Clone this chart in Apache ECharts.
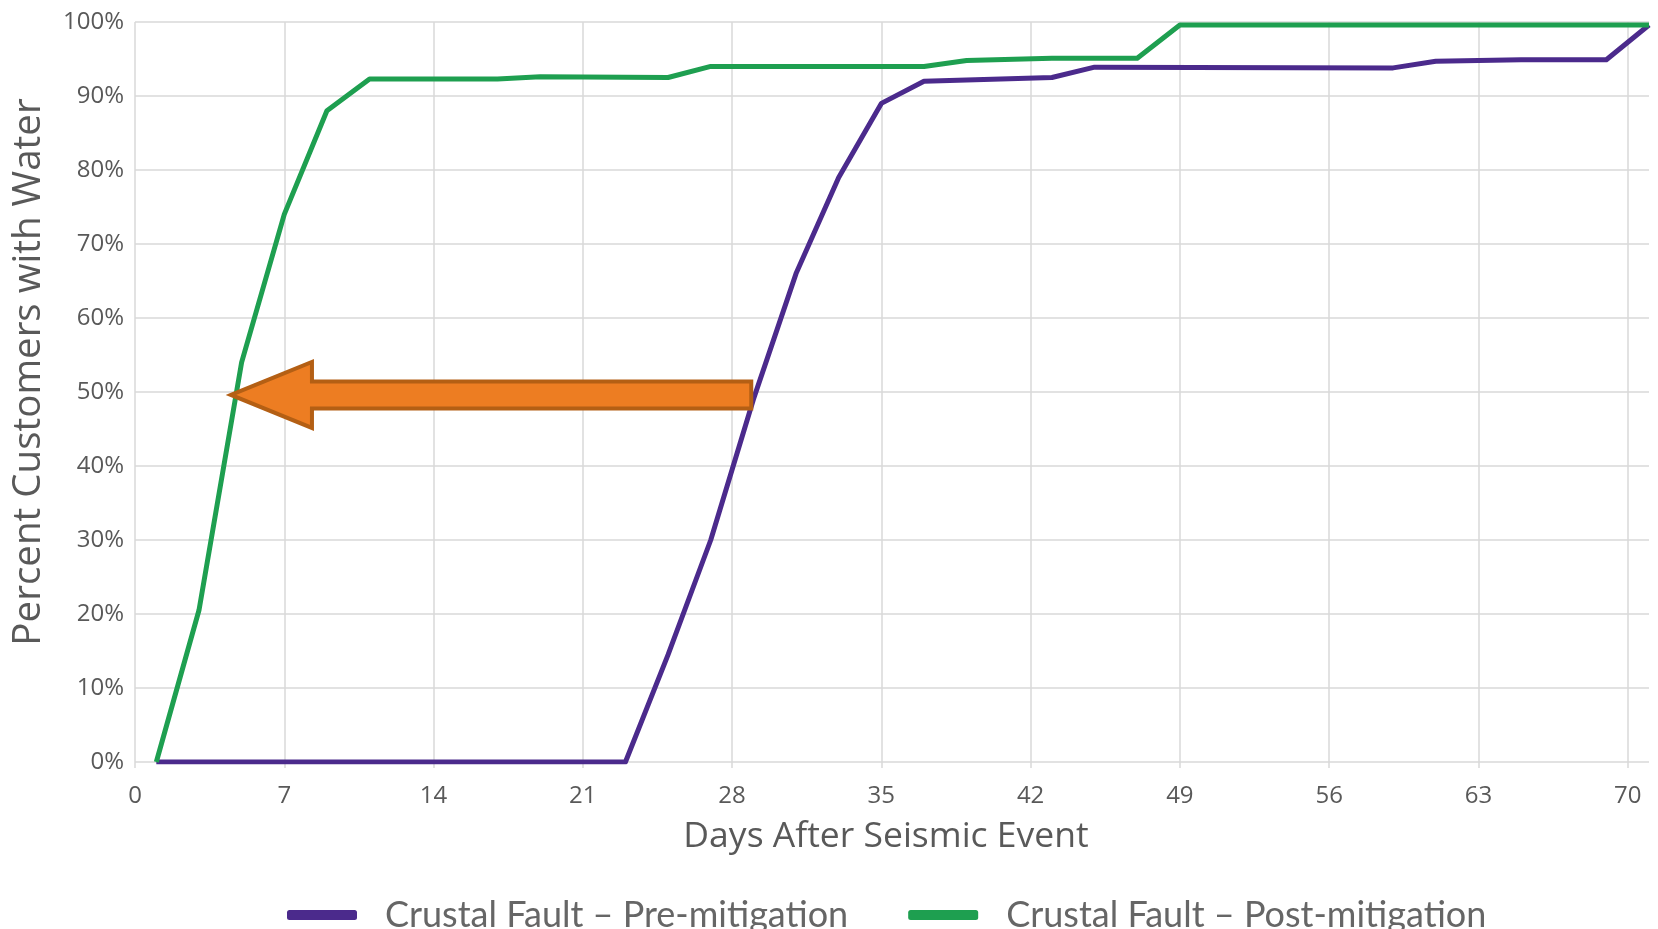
<!DOCTYPE html>
<html>
<head>
<meta charset="utf-8">
<script src="https://cdn.jsdelivr.net/npm/echarts@6/dist/echarts.min.js"></script>
<style>
html,body{margin:0;padding:0;background:#fff;}
#chart{width:1658px;height:929px;}
</style>
</head>
<body>
<div id="chart"></div>
<script>
// ---- data ----
const preName = 'Crustal Fault \u2013 Pre-mitigation';
const postName = 'Crustal Fault \u2013 Post-mitigation';

const preDays = [1, 23, 25, 27, 29, 31, 33, 35, 37, 43, 45, 59, 61, 65, 69, 71];
const preVals = [0, 0, 14.5, 30, 49, 66, 79, 89, 92, 92.5, 93.9, 93.8, 94.7, 94.9, 94.9, 99.6];

const postDays = [1, 3, 5, 7, 9, 11, 17, 19, 25, 27, 37, 39, 43, 47, 49, 71];
const postVals = [0, 20.5, 54, 74, 88, 92.3, 92.3, 92.6, 92.5, 94, 94, 94.8, 95.1, 95.1, 99.6, 99.6];

const xTicks = [0, 7, 14, 21, 28, 35, 42, 49, 56, 63, 70];

// arrow annotation (from pre curve at 50% back to post curve)
const arrowStart = [28.9, 49.6];
const arrowEnd = [4.5, 49.6];

const zip = (a, b) => a.map((v, i) => [v, b[i]]);

const gray = '#595959';
const gridGray = '#D9D9D9';
const uiFont = "'Open Sans', Lato, sans-serif";

const chart = echarts.init(document.getElementById('chart'), null, {renderer: 'canvas'});

chart.setOption({
  animation: false,
  backgroundColor: '#ffffff',
  grid: {left: 135, right: 9, top: 22, bottom: 167, containLabel: false},
  legend: {
    data: [
      {name: preName, icon: 'roundRect'},
      {name: postName, icon: 'roundRect'}
    ],
    top: 892,
    left: 282,
    itemWidth: 70,
    itemHeight: 10,
    itemGap: 60,
    textStyle: {color: '#666666', fontSize: 36, fontFamily: 'Lato, sans-serif', padding: [0, 0, 0, 23]}
  },
  xAxis: {
    type: 'value',
    min: 0,
    max: 71,
    interval: 7,
    name: 'Days After Seismic Event',
    nameLocation: 'middle',
    nameGap: 57,
    nameTextStyle: {color: gray, fontSize: 35.5, fontFamily: uiFont, padding: [0, 12, 0, 0]},
    axisLine: {show: false},
    axisTick: {show: true, length: 6, lineStyle: {color: gridGray, width: 1.5}, customValues: xTicks},
    axisLabel: {color: gray, fontSize: 24, fontFamily: uiFont, margin: 22, customValues: xTicks},
    splitLine: {show: true, lineStyle: {color: gridGray, width: 1.5}}
  },
  yAxis: {
    type: 'value',
    min: 0,
    max: 100,
    interval: 10,
    name: 'Percent Customers with Water',
    nameLocation: 'middle',
    nameGap: 86,
    nameTextStyle: {color: gray, fontSize: 38.5, fontFamily: uiFont, padding: [0, 0, 0, 40]},
    axisLine: {show: false},
    axisTick: {show: false},
    axisLabel: {color: gray, fontSize: 24, fontFamily: uiFont, margin: 11, formatter: '{value}%'},
    splitLine: {show: true, lineStyle: {color: gridGray, width: 1.5}}
  },
  series: [
    {
      name: preName,
      type: 'line',
      data: zip(preDays, preVals),
      symbol: 'none',
      color: '#4B2A8C',
      lineStyle: {width: 5, color: '#4B2A8C', join: 'round'},
      z: 3
    },
    {
      name: postName,
      type: 'line',
      data: zip(postDays, postVals),
      symbol: 'none',
      color: '#1E9F50',
      lineStyle: {width: 5, color: '#1E9F50', join: 'round'},
      z: 3
    },
    {
      name: 'arrow',
      type: 'custom',
      coordinateSystem: 'cartesian2d',
      data: [[arrowStart[0], arrowStart[1], arrowEnd[0], arrowEnd[1]]],
      encode: {x: [0, 2], y: [1, 3]},
      z: 5,
      silent: true,
      renderItem: function (params, api) {
        const tail = api.coord([api.value(0), api.value(1)]);
        const tip = api.coord([api.value(2), api.value(3)]);
        const hl = 81, hh = 33, sh = 13.5;
        const ty = tip[1];
        const pts = [
          [tip[0], ty],
          [tip[0] + hl, ty - hh],
          [tip[0] + hl, ty - sh],
          [tail[0], ty - sh],
          [tail[0], ty + sh],
          [tip[0] + hl, ty + sh],
          [tip[0] + hl, ty + hh]
        ];
        return {
          type: 'polygon',
          shape: {points: pts},
          style: {fill: '#ED7D22', stroke: '#B45F14', lineWidth: 4, lineJoin: 'miter'}
        };
      }
    }
  ]
});
</script>
</body>
</html>
